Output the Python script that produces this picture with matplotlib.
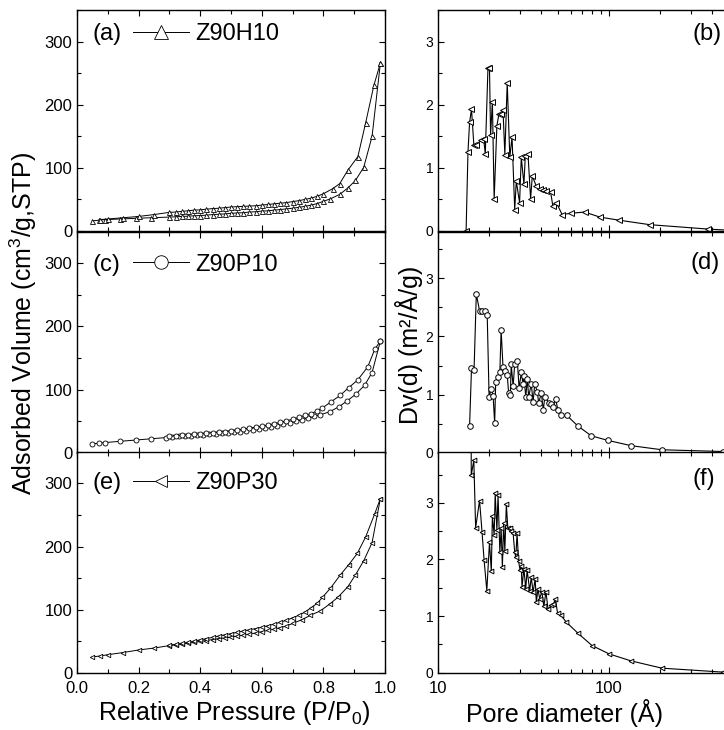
import matplotlib
matplotlib.use('Agg')
import matplotlib.pyplot as plt
from matplotlib.ticker import MultipleLocator, LogLocator, NullFormatter, FuncFormatter

plt.rcParams['font.family'] = ['Liberation Sans', 'DejaVu Sans']
plt.rcParams['mathtext.fontset'] = 'custom'
plt.rcParams['mathtext.rm'] = 'Liberation Sans'

# isotherms: relative pressure vs adsorbed volume
pa_ads = [0.05, 0.07, 0.09, 0.14, 0.19, 0.24, 0.30, 0.32, 0.34, 0.36, 0.38, 0.40, 0.42, 0.44, 0.46, 0.48,
          0.50, 0.52, 0.54, 0.56, 0.58, 0.60, 0.62, 0.64, 0.66, 0.68, 0.70, 0.72, 0.74, 0.76, 0.78, 0.80,
          0.823, 0.853, 0.879, 0.904, 0.931, 0.958, 0.985]
va_ads = [16, 17, 18, 19, 20, 21, 22, 22.5, 23, 23.5, 24, 24.5, 25, 26, 26.5, 27,
          28, 28.5, 29, 30, 30.5, 31.5, 32, 33, 34, 35, 36, 37.5, 39, 41, 43.5, 47,
          51, 58, 68, 80, 101, 150, 266]
pa_des = [0.985, 0.964, 0.937, 0.912, 0.879, 0.853, 0.830, 0.800, 0.78, 0.76, 0.74, 0.72, 0.70, 0.68,
          0.66, 0.64, 0.62, 0.60, 0.58, 0.56, 0.54, 0.52, 0.50, 0.48, 0.46, 0.44, 0.42, 0.40, 0.38,
          0.36, 0.34, 0.32, 0.30, 0.25, 0.20, 0.15, 0.10, 0.075]
va_des = [266, 231, 171, 118, 96, 75, 67, 59, 55, 52, 50, 48, 46.5, 45,
          44, 43, 42, 41, 40, 39.5, 39, 38.5, 38, 37, 36, 35.5, 34.5, 33.5, 33,
          32, 31, 30, 29.5, 26, 23, 21, 19, 18]

pc_ads = [0.05, 0.07, 0.09, 0.14, 0.19, 0.24, 0.29, 0.31, 0.33, 0.35, 0.37, 0.39, 0.41, 0.43, 0.45, 0.47,
          0.49, 0.51, 0.53, 0.55, 0.57, 0.59, 0.61, 0.63, 0.65, 0.67, 0.69, 0.71, 0.73, 0.75, 0.77, 0.79,
          0.821, 0.851, 0.877, 0.906, 0.934, 0.958, 0.985]
vc_ads = [14, 15, 16, 18, 20, 22, 24, 25, 26, 26.5, 27, 28, 28.5, 29, 30, 30.5,
          31, 32, 33.5, 35, 36.5, 38, 39.5, 41, 43, 45, 47, 49.5, 52, 55, 57.5, 60,
          65, 73, 82, 93, 107, 127, 177]
pc_des = [0.985, 0.967, 0.944, 0.911, 0.882, 0.855, 0.826, 0.797, 0.78, 0.76, 0.74, 0.72, 0.70, 0.68,
          0.66, 0.64, 0.62, 0.60, 0.58, 0.56, 0.54, 0.52, 0.50, 0.48, 0.46, 0.44, 0.42, 0.40, 0.38,
          0.36, 0.34, 0.32, 0.30]
vc_des = [177, 164, 136, 115, 103, 91, 81, 71, 66, 62, 59, 56, 53, 50.5,
          48, 46, 44, 42, 40.5, 39, 37.5, 36, 34.5, 33.5, 32.5, 31.5, 30.5, 29.5, 29,
          28, 27.5, 26.5, 26]

pe_ads = [0.05, 0.075, 0.10, 0.15, 0.20, 0.25, 0.30, 0.32, 0.34, 0.36, 0.38, 0.40, 0.42, 0.44, 0.46, 0.48,
          0.50, 0.52, 0.54, 0.56, 0.58, 0.60, 0.62, 0.64, 0.66, 0.68, 0.70, 0.73, 0.758, 0.79, 0.821,
          0.847, 0.879, 0.904, 0.931, 0.958, 0.985]
ve_ads = [25, 26.5, 28.5, 32, 36, 39, 43, 44, 45.5, 47, 48, 49.5, 51, 52.5, 54, 55,
          56.5, 58, 59.5, 61, 63, 65, 67, 69, 71.5, 74, 78, 84, 91, 98, 109,
          119.5, 136, 155, 177.5, 206, 276]
pe_des = [0.985, 0.966, 0.937, 0.910, 0.882, 0.855, 0.823, 0.797, 0.78, 0.76, 0.74, 0.72, 0.70, 0.68,
          0.66, 0.64, 0.62, 0.60, 0.58, 0.56, 0.54, 0.52, 0.50, 0.48, 0.46, 0.44, 0.42, 0.40, 0.38,
          0.36, 0.34, 0.32, 0.30]
ve_des = [276, 251, 215, 189, 171, 155, 134, 119.5, 110, 103, 96, 91, 87, 83,
          80, 77, 74.5, 72, 70, 68, 66, 64, 62, 60, 58, 56, 54, 52, 50,
          48, 46.5, 45, 43.5]

# pore size distributions: diameter (A) vs Dv(d)
db = [14.6, 14.97, 15.3, 15.7, 16.2, 16.7, 17.9, 18.5, 18.9, 19.6, 20.0, 20.3, 20.8, 21.3, 22.1,
      22.75, 23.4, 24.0, 24.6, 25.4, 26.3, 27.1, 28.1, 28.7, 30.0, 30.7, 31.8, 32.4, 33.6, 34.8,
      35.6, 37.6, 39.3, 41.1, 43.0, 45.6, 47.0, 49.2, 53.2, 59.6, 72.0, 88.5, 115, 173, 380, 520]
vb = [0, 1.25, 1.72, 1.93, 1.37, 1.36, 1.44, 1.46, 1.22, 2.59, 2.59, 1.52, 2.05, 0.5, 1.67,
      1.86, 1.86, 1.92, 1.21, 2.35, 1.17, 1.49, 0.34, 0.79, 0.45, 1.17, 0.74, 1.19, 1.22, 0.51,
      0.87, 0.71, 0.67, 0.65, 0.63, 0.61, 0.39, 0.45, 0.26, 0.28, 0.30, 0.22, 0.17, 0.10, 0.03, 0.01]

dd = [15.3, 15.7, 16.25, 16.75, 17.5, 18.1, 18.75, 19.4, 19.9, 20.5, 21.0, 21.45, 21.75, 22.4, 23.0,
      23.4, 24.0, 24.7, 25.4, 25.9, 26.5, 26.8, 27.5, 28.1, 29.1, 29.8, 30.7, 31.4, 31.8, 32.6,
      33.3, 33.9, 35.1, 36.0, 36.8, 38.1, 38.8, 40.2, 41.3, 42.1, 44.6, 46.0, 47.3, 48.8, 50.3,
      52.1, 56.7, 65.7, 78.8, 98.9, 135, 204, 465]
vd = [0.46, 1.45, 1.42, 2.73, 2.44, 2.44, 2.43, 2.37, 0.96, 1.10, 0.98, 0.51, 1.21, 1.31, 1.39,
      2.11, 1.47, 1.41, 1.34, 1.02, 1.0, 1.52, 1.14, 1.53, 1.58, 1.11, 1.38, 1.19, 1.32, 0.96,
      1.27, 0.96, 1.18, 0.88, 1.18, 1.05, 0.85, 1.03, 0.73, 0.95, 0.86, 0.84, 0.79, 0.92, 0.73,
      0.64, 0.64, 0.46, 0.29, 0.21, 0.12, 0.05, 0.02]

df = [15.6, 15.65, 16.2, 16.6, 17.5, 18.1, 18.6, 19.3, 20.0, 20.5, 20.8, 21.3, 21.6, 22.1, 22.45,
      23.0, 23.4, 23.8, 24.2, 24.6, 25.1, 25.6, 26.3, 26.8, 27.5, 28.1, 28.5, 29.0, 29.6, 30.2,
      30.7, 31.0, 31.8, 32.6, 33.2, 34.4, 35.1, 36.0, 37.0, 37.6, 38.4, 39.3, 40.5, 41.6, 42.8,
      44.0, 46.0, 47.3, 48.6, 50.0, 52.1, 56.4, 65.7, 79.5, 100.5, 134, 204, 465]
vf = [5.0, 3.49, 3.75, 2.56, 3.04, 2.48, 1.99, 1.45, 2.30, 1.79, 2.76, 2.43, 3.17, 2.52, 3.14,
      2.13, 2.55, 1.87, 2.64, 2.15, 2.98, 2.55, 2.55, 2.50, 2.46, 2.13, 2.04, 2.46, 1.97, 1.81,
      1.88, 1.51, 1.84, 1.48, 1.81, 1.45, 1.69, 1.42, 1.66, 1.24, 1.48, 1.31, 1.43, 1.17, 1.43,
      1.12, 1.19, 1.21, 1.30, 1.06, 1.02, 0.89, 0.70, 0.48, 0.33, 0.21, 0.08, 0.01]

samples = ['Z90H10', 'Z90P10', 'Z90P30']
left_tags = ['(a)', '(c)', '(e)']
right_tags = ['(b)', '(d)', '(f)']

W, H = 724, 730
fig = plt.figure(figsize=(W / 100, H / 100), dpi=100)

row_bottoms = [0.6836, 0.3799, 0.0785]
row_h = 0.3025
left_x, left_w = 77 / W, 308 / W
right_x, right_w = 438 / W, 290.5 / W


def style_axes(ax, fs, right=True):
    for s in ax.spines.values():
        s.set_linewidth(1.0)
    ax.tick_params(which='both', direction='in', top=True, right=right, width=0.8, labelsize=fs)
    ax.tick_params(which='major', length=4)
    ax.tick_params(which='minor', length=3)
    ax.tick_params(axis='x', pad=6)


iso = [(pa_ads, va_ads, pa_des, va_des, '^', 3.6, 0.893),
       (pc_ads, vc_ads, pc_des, vc_des, 'o', 3.6, 0.851),
       (pe_ads, ve_ads, pe_des, ve_des, '<', 3.2, 0.859)]

for i, (p1, v1, p2, v2, mk, ms, ty) in enumerate(iso):
    ax = fig.add_axes([left_x, row_bottoms[i], left_w, row_h])
    ax.plot(p1, v1, '-', color='black', lw=0.7, marker=mk, ms=ms, mfc='white', mec='black', mew=0.6)
    ax.plot(p2, v2, '-', color='black', lw=0.7, marker=mk, ms=ms, mfc='white', mec='black', mew=0.6,
            label=samples[i])
    ax.set_xlim(0.0, 1.0)
    ax.set_ylim(0, 350)
    ax.xaxis.set_major_locator(MultipleLocator(0.2))
    ax.xaxis.set_minor_locator(MultipleLocator(0.1))
    ax.yaxis.set_major_locator(MultipleLocator(100))
    ax.yaxis.set_minor_locator(MultipleLocator(50))
    ax.xaxis.set_major_formatter(FuncFormatter(lambda x, pos: '%.1f' % x))
    style_axes(ax, 12)
    if i < 2:
        ax.tick_params(labelbottom=False)
    ax.text(0.049, ty, left_tags[i], transform=ax.transAxes, fontsize=17, va='center', ha='left')
    ax.legend(loc='center left', bbox_to_anchor=(0.182, ty), frameon=False, fontsize=17,
              handlelength=2.35, handletextpad=0.3, borderpad=0, borderaxespad=0, markerscale=2.7)

psd = [(db, vb, '<', 5.0, 3.5, 0.891, 0.978),
       (dd, vd, 'o', 4.0, 3.8, 0.860, 0.971),
       (df, vf, '<', 3.4, 3.9, 0.877, 0.954)]

for i, (d, v, mk, ms, ytop, ty, tx) in enumerate(psd):
    ax = fig.add_axes([right_x, row_bottoms[i], right_w, row_h])
    ax.plot(d, v, '-', color='black', lw=0.8, marker=mk, ms=ms, mfc='white', mec='black', mew=0.7)
    ax.set_xscale('log')
    ax.set_xlim(10, 500)
    ax.set_ylim(0, ytop)
    ax.xaxis.set_major_locator(LogLocator(base=10))
    ax.xaxis.set_minor_locator(LogLocator(base=10, subs=range(2, 10)))
    ax.xaxis.set_major_formatter(FuncFormatter(lambda x, pos: '%d' % x))
    ax.xaxis.set_minor_formatter(NullFormatter())
    ax.yaxis.set_major_locator(MultipleLocator(1))
    ax.yaxis.set_minor_locator(MultipleLocator(0.5))
    style_axes(ax, 10, right=False)
    ax.tick_params(axis='x', labelsize=12)
    if i < 2:
        ax.tick_params(labelbottom=False)
    ax.text(tx, ty, right_tags[i], transform=ax.transAxes, fontsize=17, va='center', ha='right')

fig.text(23 / W, 1 - 323 / H, 'Adsorbed Volume (cm$^3$/g,STP)', rotation=90, fontsize=18,
         ha='center', va='center')
fig.text(409 / W, 1 - 345 / H, 'Dv(d) (m²/Å/g)', rotation=90, fontsize=18, ha='center', va='center')
fig.text(234 / W, 1 - 713 / H, 'Relative Pressure (P/P$_0$)', fontsize=18, ha='center', va='center')
fig.text(565 / W, 1 - 713 / H, 'Pore diameter (Å)', fontsize=18, ha='center', va='center')

fig.savefig('out.png', dpi=100)
